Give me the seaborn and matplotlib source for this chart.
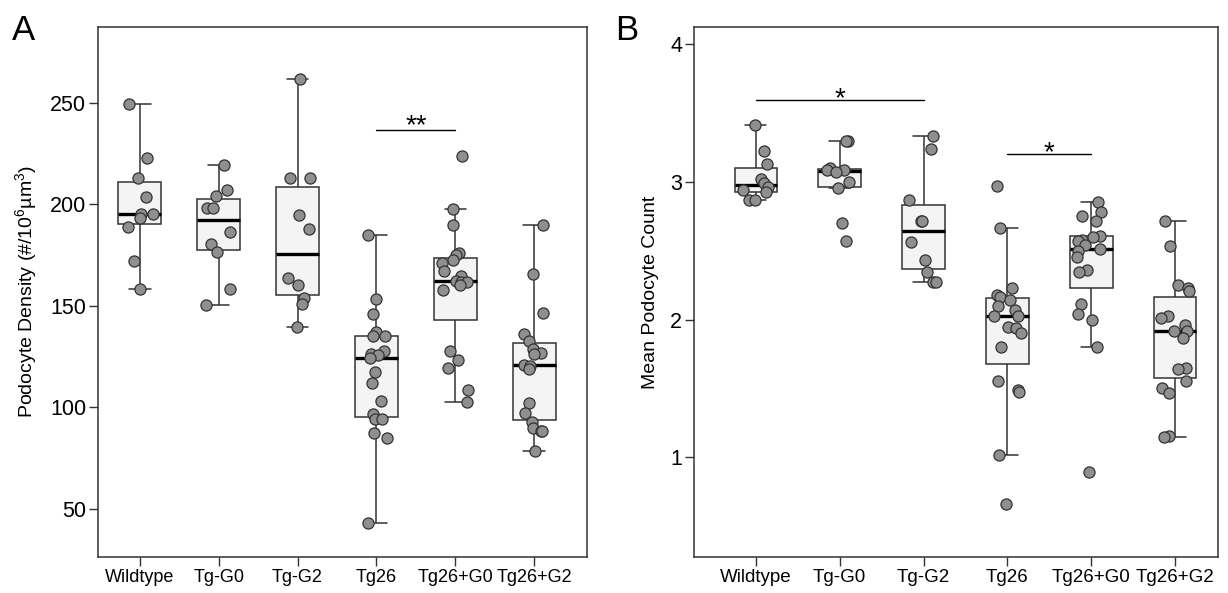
import numpy as np
import pandas as pd
import matplotlib
matplotlib.use("Agg")
import matplotlib.pyplot as plt
import seaborn as sns

groups = ["Wildtype", "Tg-G0", "Tg-G2", "Tg26", "Tg26+G0", "Tg26+G2"]

# Panel A - podocyte density (#/10^6 um^3)
dens_wt = [249.2, 222.5, 213.1, 203.5, 195.1, 195.1, 193.3, 188.9, 172.2, 158.4]
dens_g0 = [219.4, 207.2, 204.1, 198.1, 198.1, 186.3, 180.2, 176.4, 158.3, 150.4]
dens_g2 = [261.5, 213.1, 213.1, 194.9, 187.9, 163.5, 160.0, 154.0, 150.9, 139.6]
dens_tg26 = [184.8, 153.5, 145.8, 137.0, 135.0, 135.0, 127.5, 126.3, 125.6, 124.5,
             117.6, 112.0, 103.3, 96.9, 94.0, 94.0, 87.3, 85.0, 43.2]
dens_tg26_g0 = [223.6, 197.4, 189.7, 176.0, 174.8, 172.3, 171.2, 167.3, 164.8, 162.3,
                161.5, 161.5, 160.4, 157.8, 127.9, 123.2, 119.4, 108.3, 102.7]
dens_tg26_g2 = [189.7, 165.4, 146.3, 136.1, 132.8, 128.8, 126.6, 126.0, 121.0, 120.4,
                118.6, 102.0, 97.1, 92.9, 89.9, 88.2, 88.2, 78.6]

# Panel B - mean podocyte count
count_wt = [3.414, 3.227, 3.131, 3.024, 2.995, 2.961, 2.942, 2.925, 2.869, 2.869]
count_g0 = [3.298, 3.298, 3.10, 3.09, 3.09, 3.07, 3.002, 2.954, 2.700, 2.572]
count_g2 = [3.334, 3.237, 2.869, 2.715, 2.715, 2.567, 2.434, 2.344, 2.272, 2.272]
count_tg26 = [2.971, 2.666, 2.232, 2.182, 2.167, 2.141, 2.100, 2.071, 2.03, 2.027,
              1.949, 1.94, 1.901, 1.804, 1.557, 1.489, 1.475, 1.015, 0.662]
count_tg26_g0 = [2.853, 2.782, 2.753, 2.717, 2.610, 2.601, 2.579, 2.572, 2.540, 2.511,
                 2.497, 2.458, 2.361, 2.344, 2.116, 2.041, 1.998, 1.802, 0.892]
count_tg26_g2 = [2.719, 2.538, 2.254, 2.232, 2.208, 2.027, 2.015, 1.959, 1.920, 1.916,
                 1.869, 1.651, 1.640, 1.553, 1.502, 1.465, 1.158, 1.146]

# significance bars: (left group, right group, height, label)
sig_a = [("Tg26", "Tg26+G0", 236.6, "**")]
sig_b = [("Wildtype", "Tg-G2", 3.595, "*"), ("Tg26", "Tg26+G0", 3.203, "*")]

# whisker reach per group (the original used R hinges, mpl uses linear quantiles)
whis_a = [2.0, 1.5, 1.5, 1.5, 1.5, 1.6]
whis_b = [1.9, 1.6, 1.5, 1.5, 1.5, 1.5]


def long_df(lists, col):
    rows = []
    for g, vals in zip(groups, lists):
        for v in vals:
            rows.append((g, v))
    return pd.DataFrame(rows, columns=["group", col])


density = long_df([dens_wt, dens_g0, dens_g2, dens_tg26, dens_tg26_g0, dens_tg26_g2], "density")
counts = long_df([count_wt, count_g0, count_g2, count_tg26, count_tg26_g0, count_tg26_g2], "count")

sns.set_style("white")
plt.rcParams["font.family"] = ["Liberation Sans", "DejaVu Sans"]
plt.rcParams["mathtext.default"] = "regular"
for k in ["text.color", "axes.labelcolor", "xtick.labelcolor", "ytick.labelcolor"]:
    plt.rcParams[k] = "black"

edge = "#333333"
np.random.seed(7)

fig = plt.figure(figsize=(12.28, 5.93), dpi=100)
ax_a = fig.add_axes([98 / 1228, 36 / 593, 489 / 1228, 530 / 593])
ax_b = fig.add_axes([694 / 1228, 36 / 593, 524 / 1228, 530 / 593])


def draw_panel(ax, df, col, box_w, whis, ylim, xlim, yticks, ylabel, sigs, sig_off, xsize):
    for g, w in zip(groups, whis):
        sns.boxplot(data=df[df["group"] == g], x="group", y=col, order=groups, ax=ax,
                    width=box_w, whis=w, showfliers=False, color="#f4f4f4",
                    linecolor=edge, linewidth=1.1,
                    medianprops={"color": "black", "linewidth": 2.4})
    sns.stripplot(data=df, x="group", y=col, order=groups, ax=ax, jitter=0.17,
                  size=8, color="#8f8f8f", edgecolor=edge, linewidth=0.9, zorder=3)
    ax.set_xlim(*xlim)
    ax.set_ylim(*ylim)
    ax.set_yticks(yticks)
    ax.set_xlabel("")
    ax.set_ylabel(ylabel, fontsize=14, labelpad=8)
    ax.tick_params(axis="x", labelsize=xsize, length=6.5, width=1, color=edge, pad=2,
                   labelcolor="black")
    ax.tick_params(axis="y", labelsize=15.5, length=6.5, width=1, color=edge, pad=2,
                   labelcolor="black")
    ax.tick_params(bottom=True, left=True)
    for s in ax.spines.values():
        s.set_visible(True)
        s.set_color(edge)
        s.set_linewidth(1.1)
    for g1, g2, h, lab in sigs:
        x1, x2 = groups.index(g1), groups.index(g2)
        ax.plot([x1, x2], [h, h], color="black", lw=1.0)
        ax.text((x1 + x2) / 2, h + sig_off, lab, ha="center", va="bottom", fontsize=20)


draw_panel(ax_a, density, "density", 0.545, whis_a, (26.3, 287.2), (-0.531, 5.671),
           [50, 100, 150, 200, 250], "Podocyte Density (#/10$^6$\u00b5m$^3$)", sig_a, -4.5, 13)
draw_panel(ax_b, counts, "count", 0.505, whis_b, (0.276, 4.126), (-0.736, 5.51),
           [1, 2, 3, 4], "Mean Podocyte Count", sig_b, -0.085, 13.5)

fig.text(12 / 1228, 1 - 14 / 593, "A", fontsize=25, va="top", ha="left")
fig.text(615 / 1228, 1 - 14 / 593, "B", fontsize=25, va="top", ha="left")

fig.savefig("out.png", dpi=100)
